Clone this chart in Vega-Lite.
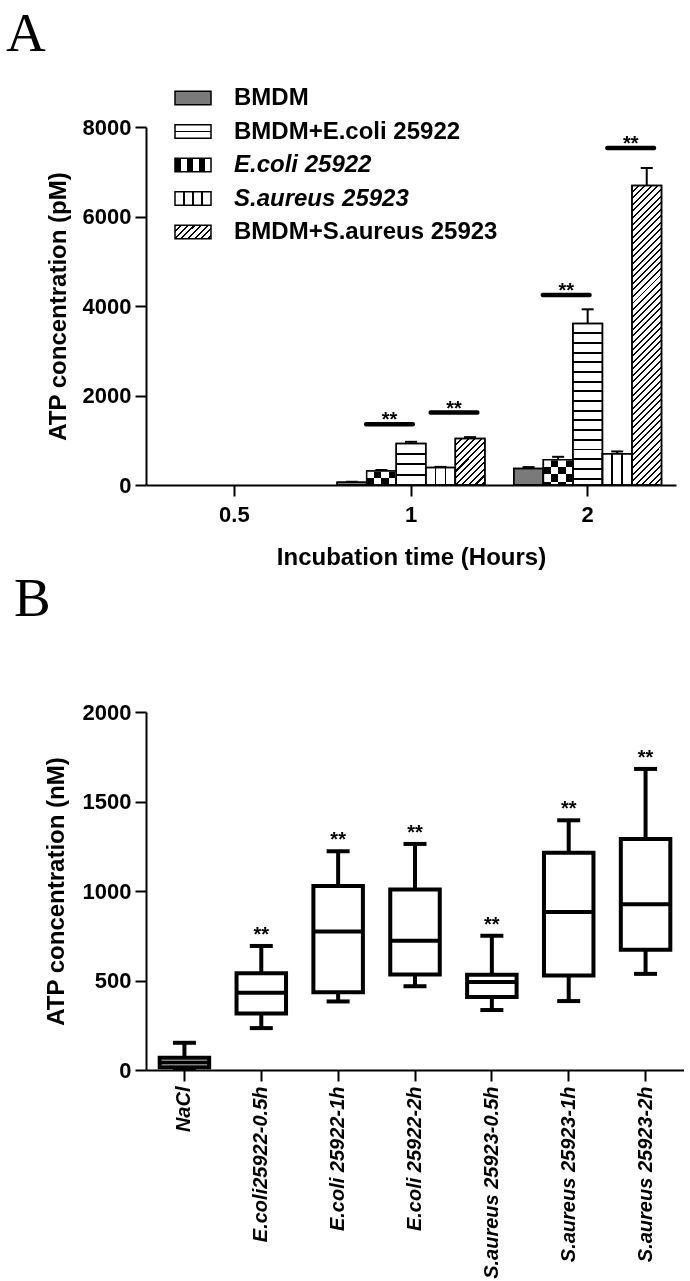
{
"$schema":"https://vega.github.io/schema/vega-lite/v6.json",
"background":"white",
"padding":{"left":6,"top":7,"right":0,"bottom":0},
"bounds":"flush",
"spacing":227,
"config":{
 "view":{"stroke":null},
 "font":"Liberation Sans",
 "axis":{"domainColor":"#000","domainWidth":2,"tickColor":"#000","tickWidth":2,"tickSize":11,"labelColor":"#000","labelFont":"Liberation Sans","labelFontWeight":"bold","labelFontSize":22,"titleColor":"#000","titleFont":"Liberation Sans","titleFontWeight":"bold","titleFontSize":24,"grid":false},
 "title":{"font":"Liberation Serif","fontSize":55,"fontWeight":"normal","color":"#000","anchor":"start","frame":"group"},
 "text":{"font":"Liberation Sans","color":"#000"}
},
"vconcat":[
{
"title":{"text":"A","dx":-140,"offset":53},
"width":530,"height":358,
"data":{"values":[
{"Time":"0.5","Group":"BMDM","ATP":0,"Err":null},
{"Time":"0.5","Group":"E.coli 25922","ATP":0,"Err":null},
{"Time":"0.5","Group":"BMDM+E.coli 25922","ATP":0,"Err":null},
{"Time":"0.5","Group":"S.aureus 25923","ATP":0,"Err":null},
{"Time":"0.5","Group":"BMDM+S.aureus 25923","ATP":0,"Err":null},
{"Time":"1","Group":"BMDM","ATP":60,"Err":72},
{"Time":"1","Group":"E.coli 25922","ATP":313,"Err":335},
{"Time":"1","Group":"BMDM+E.coli 25922","ATP":930,"Err":965},
{"Time":"1","Group":"S.aureus 25923","ATP":389,"Err":405},
{"Time":"1","Group":"BMDM+S.aureus 25923","ATP":1037,"Err":1070},
{"Time":"2","Group":"BMDM","ATP":366,"Err":400},
{"Time":"2","Group":"E.coli 25922","ATP":565,"Err":630},
{"Time":"2","Group":"BMDM+E.coli 25922","ATP":3607,"Err":3926},
{"Time":"2","Group":"S.aureus 25923","ATP":700,"Err":750},
{"Time":"2","Group":"BMDM+S.aureus 25923","ATP":6690,"Err":7084}
]},
"encoding":{
 "x":{"field":"Time","type":"nominal","scale":{"domain":["0.5","1","2"],"paddingInner":0.164,"paddingOuter":0.082},"axis":{"labelAngle":0,"labelPadding":8,"titlePadding":20},"title":"Incubation time (Hours)"},
 "y":{"field":"ATP","type":"quantitative","scale":{"domain":[0,8000],"nice":false},"axis":{"values":[0,2000,4000,6000,8000],"format":"d","titlePadding":12,"labelPadding":4},"title":"ATP concentration (pM)"}
},
"layer":[
{"transform":[{"filter":"datum.ATP > 0"}],
 "encoding":{"xOffset":{"field":"Group","type":"nominal","scale":{"domain":["BMDM","E.coli 25922","BMDM+E.coli 25922","S.aureus 25923","BMDM+S.aureus 25923"],"paddingInner":0,"paddingOuter":0}}},
 "layer":[
{"mark":{"type":"bar","stroke":"#000","strokeWidth":1.5},
 "encoding":{"fill":{"field":"Group","type":"nominal",
  "scale":{"domain":["BMDM","BMDM+E.coli 25922","E.coli 25922","S.aureus 25923","BMDM+S.aureus 25923"],
   "range":["#7a7a7a",
    {"expr":"{gradient:'linear',x1:0,y1:0,x2:0,y2:1,stops:[{offset:0,color:'#fff'},{offset:0.44,color:'#fff'},{offset:0.44,color:'#000'},{offset:0.56,color:'#000'},{offset:0.56,color:'#fff'},{offset:1,color:'#fff'}]}"},
    {"expr":"{gradient:'linear',x1:0,y1:0,x2:1,y2:0,stops:[{offset:0,color:'#000'},{offset:0.1667,color:'#000'},{offset:0.1667,color:'#fff'},{offset:0.3333,color:'#fff'},{offset:0.3333,color:'#000'},{offset:0.5,color:'#000'},{offset:0.5,color:'#fff'},{offset:0.6667,color:'#fff'},{offset:0.6667,color:'#000'},{offset:0.8333,color:'#000'},{offset:0.8333,color:'#fff'},{offset:1,color:'#fff'}]}"},
    {"expr":"{gradient:'linear',x1:0,y1:0,x2:1,y2:0,stops:[{offset:0,color:'#fff'},{offset:0.225,color:'#fff'},{offset:0.225,color:'#000'},{offset:0.275,color:'#000'},{offset:0.275,color:'#fff'},{offset:0.475,color:'#fff'},{offset:0.475,color:'#000'},{offset:0.525,color:'#000'},{offset:0.525,color:'#fff'},{offset:0.725,color:'#fff'},{offset:0.725,color:'#000'},{offset:0.775,color:'#000'},{offset:0.775,color:'#fff'},{offset:1,color:'#fff'}]}"},
    {"expr":"{gradient:'linear',x1:0,y1:0,x2:1.206,y2:0.459,stops:[{offset:0,color:'#fff'},{offset:0.1118,color:'#fff'},{offset:0.1118,color:'#000'},{offset:0.1538,color:'#000'},{offset:0.1538,color:'#fff'},{offset:0.2446,color:'#fff'},{offset:0.2446,color:'#000'},{offset:0.2866,color:'#000'},{offset:0.2866,color:'#fff'},{offset:0.3774,color:'#fff'},{offset:0.3774,color:'#000'},{offset:0.4194,color:'#000'},{offset:0.4194,color:'#fff'},{offset:0.5102,color:'#fff'},{offset:0.5102,color:'#000'},{offset:0.5522,color:'#000'},{offset:0.5522,color:'#fff'},{offset:0.643,color:'#fff'},{offset:0.643,color:'#000'},{offset:0.685,color:'#000'},{offset:0.685,color:'#fff'},{offset:0.7758,color:'#fff'},{offset:0.7758,color:'#000'},{offset:0.8178,color:'#000'},{offset:0.8178,color:'#fff'},{offset:0.9086,color:'#fff'},{offset:0.9086,color:'#000'},{offset:0.9506,color:'#000'},{offset:0.9506,color:'#fff'},{offset:1,color:'#fff'}]}"}
   ]},
  "legend":{"title":null,"orient":"none","legendX":34,"legendY":-42,"symbolType":"M-1.5,-0.57H1.5V0.57H-1.5Z","symbolSize":576,"symbolStrokeColor":"#000","symbolStrokeWidth":1.5,"symbolOpacity":1,"labelFont":"Liberation Sans","labelFontSize":24,"labelFontWeight":"bold","labelColor":"#000","labelOffset":28,"labelLimit":500,"rowPadding":8.5,"padding":0,
   "encode":{
    "labels":{"update":{"fontStyle":{"signal":"datum.value === 'E.coli 25922' || datum.value === 'S.aureus 25923' ? 'italic' : 'normal'"}}}
   }},
  "condition":[
   {"test":"datum.Group === 'E.coli 25922'","value":{"gradient":"linear","x1":0,"y1":0,"x2":1,"y2":0,"stops":[{"offset":0,"color":"#000"},{"offset":0.25,"color":"#000"},{"offset":0.25,"color":"#fff"},{"offset":0.5,"color":"#fff"},{"offset":0.5,"color":"#000"},{"offset":0.75,"color":"#000"},{"offset":0.75,"color":"#fff"},{"offset":1,"color":"#fff"}]}},
   {"test":"datum.Group === 'S.aureus 25923'","value":{"gradient":"linear","x1":0,"y1":0,"x2":1,"y2":0,"stops":[{"offset":0,"color":"#fff"},{"offset":0.303,"color":"#fff"},{"offset":0.303,"color":"#000"},{"offset":0.363,"color":"#000"},{"offset":0.363,"color":"#fff"},{"offset":0.637,"color":"#fff"},{"offset":0.637,"color":"#000"},{"offset":0.697,"color":"#000"},{"offset":0.697,"color":"#fff"},{"offset":1,"color":"#fff"}]}},
   {"test":"datum.Group === 'BMDM+E.coli 25922' && datum.Time === '1'","value":{"gradient":"linear","x1":0,"y1":0,"x2":0,"y2":1,"stops":[{"offset":0,"color":"#fff"},{"offset":0.228,"color":"#fff"},{"offset":0.228,"color":"#000"},{"offset":0.272,"color":"#000"},{"offset":0.272,"color":"#fff"},{"offset":0.478,"color":"#fff"},{"offset":0.478,"color":"#000"},{"offset":0.522,"color":"#000"},{"offset":0.522,"color":"#fff"},{"offset":0.728,"color":"#fff"},{"offset":0.728,"color":"#000"},{"offset":0.772,"color":"#000"},{"offset":0.772,"color":"#fff"},{"offset":1,"color":"#fff"}]}},
   {"test":"datum.Group === 'BMDM+E.coli 25922' && datum.Time === '2'","value":{"gradient":"linear","x1":0,"y1":0,"x2":0,"y2":1,"stops":[{"offset":0,"color":"#fff"},
    {"offset":0.054,"color":"#fff"},{"offset":0.054,"color":"#000"},{"offset":0.066,"color":"#000"},{"offset":0.066,"color":"#fff"},
    {"offset":0.114,"color":"#fff"},{"offset":0.114,"color":"#000"},{"offset":0.126,"color":"#000"},{"offset":0.126,"color":"#fff"},
    {"offset":0.174,"color":"#fff"},{"offset":0.174,"color":"#000"},{"offset":0.186,"color":"#000"},{"offset":0.186,"color":"#fff"},
    {"offset":0.234,"color":"#fff"},{"offset":0.234,"color":"#000"},{"offset":0.246,"color":"#000"},{"offset":0.246,"color":"#fff"},
    {"offset":0.294,"color":"#fff"},{"offset":0.294,"color":"#000"},{"offset":0.306,"color":"#000"},{"offset":0.306,"color":"#fff"},
    {"offset":0.354,"color":"#fff"},{"offset":0.354,"color":"#000"},{"offset":0.366,"color":"#000"},{"offset":0.366,"color":"#fff"},
    {"offset":0.414,"color":"#fff"},{"offset":0.414,"color":"#000"},{"offset":0.426,"color":"#000"},{"offset":0.426,"color":"#fff"},
    {"offset":0.474,"color":"#fff"},{"offset":0.474,"color":"#000"},{"offset":0.486,"color":"#000"},{"offset":0.486,"color":"#fff"},
    {"offset":0.534,"color":"#fff"},{"offset":0.534,"color":"#000"},{"offset":0.546,"color":"#000"},{"offset":0.546,"color":"#fff"},
    {"offset":0.594,"color":"#fff"},{"offset":0.594,"color":"#000"},{"offset":0.606,"color":"#000"},{"offset":0.606,"color":"#fff"},
    {"offset":0.654,"color":"#fff"},{"offset":0.654,"color":"#000"},{"offset":0.666,"color":"#000"},{"offset":0.666,"color":"#fff"},
    {"offset":0.714,"color":"#fff"},{"offset":0.714,"color":"#000"},{"offset":0.726,"color":"#000"},{"offset":0.726,"color":"#fff"},
    {"offset":0.774,"color":"#fff"},{"offset":0.774,"color":"#000"},{"offset":0.786,"color":"#000"},{"offset":0.786,"color":"#fff"},
    {"offset":0.834,"color":"#fff"},{"offset":0.834,"color":"#000"},{"offset":0.846,"color":"#000"},{"offset":0.846,"color":"#fff"},
    {"offset":0.894,"color":"#fff"},{"offset":0.894,"color":"#000"},{"offset":0.906,"color":"#000"},{"offset":0.906,"color":"#fff"},
    {"offset":0.954,"color":"#fff"},{"offset":0.954,"color":"#000"},{"offset":0.966,"color":"#000"},{"offset":0.966,"color":"#fff"},
    {"offset":1,"color":"#fff"}]}},
   {"test":"datum.Group === 'BMDM+S.aureus 25923' && datum.Time === '1'","value":{"gradient":"linear","x1":0,"y1":0,"x2":0.7416,"y2":1.1645,"stops":[{"offset":0,"color":"#fff"},
    {"offset":0.073,"color":"#fff"},{"offset":0.073,"color":"#000"},{"offset":0.101,"color":"#000"},{"offset":0.101,"color":"#fff"},
    {"offset":0.160,"color":"#fff"},{"offset":0.160,"color":"#000"},{"offset":0.188,"color":"#000"},{"offset":0.188,"color":"#fff"},
    {"offset":0.247,"color":"#fff"},{"offset":0.247,"color":"#000"},{"offset":0.275,"color":"#000"},{"offset":0.275,"color":"#fff"},
    {"offset":0.334,"color":"#fff"},{"offset":0.334,"color":"#000"},{"offset":0.362,"color":"#000"},{"offset":0.362,"color":"#fff"},
    {"offset":0.421,"color":"#fff"},{"offset":0.421,"color":"#000"},{"offset":0.449,"color":"#000"},{"offset":0.449,"color":"#fff"},
    {"offset":0.508,"color":"#fff"},{"offset":0.508,"color":"#000"},{"offset":0.536,"color":"#000"},{"offset":0.536,"color":"#fff"},
    {"offset":0.595,"color":"#fff"},{"offset":0.595,"color":"#000"},{"offset":0.623,"color":"#000"},{"offset":0.623,"color":"#fff"},
    {"offset":0.682,"color":"#fff"},{"offset":0.682,"color":"#000"},{"offset":0.710,"color":"#000"},{"offset":0.710,"color":"#fff"},
    {"offset":0.769,"color":"#fff"},{"offset":0.769,"color":"#000"},{"offset":0.797,"color":"#000"},{"offset":0.797,"color":"#fff"},
    {"offset":0.856,"color":"#fff"},{"offset":0.856,"color":"#000"},{"offset":0.884,"color":"#000"},{"offset":0.884,"color":"#fff"},
    {"offset":0.943,"color":"#fff"},{"offset":0.943,"color":"#000"},{"offset":0.971,"color":"#000"},{"offset":0.971,"color":"#fff"},
    {"offset":1,"color":"#fff"}]}},
   {"test":"datum.Group === 'BMDM+S.aureus 25923' && datum.Time === '2'","value":{"gradient":"linear","x1":0,"y1":0,"x2":0.1074,"y2":1.088,"stops":[{"offset":0,"color":"#fff"},
    {"offset":0.017,"color":"#fff"},{"offset":0.017,"color":"#000"},{"offset":0.023,"color":"#000"},{"offset":0.023,"color":"#fff"},
    {"offset":0.037,"color":"#fff"},{"offset":0.037,"color":"#000"},{"offset":0.043,"color":"#000"},{"offset":0.043,"color":"#fff"},
    {"offset":0.057,"color":"#fff"},{"offset":0.057,"color":"#000"},{"offset":0.063,"color":"#000"},{"offset":0.063,"color":"#fff"},
    {"offset":0.077,"color":"#fff"},{"offset":0.077,"color":"#000"},{"offset":0.083,"color":"#000"},{"offset":0.083,"color":"#fff"},
    {"offset":0.097,"color":"#fff"},{"offset":0.097,"color":"#000"},{"offset":0.103,"color":"#000"},{"offset":0.103,"color":"#fff"},
    {"offset":0.117,"color":"#fff"},{"offset":0.117,"color":"#000"},{"offset":0.123,"color":"#000"},{"offset":0.123,"color":"#fff"},
    {"offset":0.137,"color":"#fff"},{"offset":0.137,"color":"#000"},{"offset":0.143,"color":"#000"},{"offset":0.143,"color":"#fff"},
    {"offset":0.157,"color":"#fff"},{"offset":0.157,"color":"#000"},{"offset":0.163,"color":"#000"},{"offset":0.163,"color":"#fff"},
    {"offset":0.177,"color":"#fff"},{"offset":0.177,"color":"#000"},{"offset":0.183,"color":"#000"},{"offset":0.183,"color":"#fff"},
    {"offset":0.197,"color":"#fff"},{"offset":0.197,"color":"#000"},{"offset":0.203,"color":"#000"},{"offset":0.203,"color":"#fff"},
    {"offset":0.217,"color":"#fff"},{"offset":0.217,"color":"#000"},{"offset":0.223,"color":"#000"},{"offset":0.223,"color":"#fff"},
    {"offset":0.237,"color":"#fff"},{"offset":0.237,"color":"#000"},{"offset":0.243,"color":"#000"},{"offset":0.243,"color":"#fff"},
    {"offset":0.257,"color":"#fff"},{"offset":0.257,"color":"#000"},{"offset":0.263,"color":"#000"},{"offset":0.263,"color":"#fff"},
    {"offset":0.277,"color":"#fff"},{"offset":0.277,"color":"#000"},{"offset":0.283,"color":"#000"},{"offset":0.283,"color":"#fff"},
    {"offset":0.297,"color":"#fff"},{"offset":0.297,"color":"#000"},{"offset":0.303,"color":"#000"},{"offset":0.303,"color":"#fff"},
    {"offset":0.317,"color":"#fff"},{"offset":0.317,"color":"#000"},{"offset":0.323,"color":"#000"},{"offset":0.323,"color":"#fff"},
    {"offset":0.337,"color":"#fff"},{"offset":0.337,"color":"#000"},{"offset":0.343,"color":"#000"},{"offset":0.343,"color":"#fff"},
    {"offset":0.357,"color":"#fff"},{"offset":0.357,"color":"#000"},{"offset":0.363,"color":"#000"},{"offset":0.363,"color":"#fff"},
    {"offset":0.377,"color":"#fff"},{"offset":0.377,"color":"#000"},{"offset":0.383,"color":"#000"},{"offset":0.383,"color":"#fff"},
    {"offset":0.397,"color":"#fff"},{"offset":0.397,"color":"#000"},{"offset":0.403,"color":"#000"},{"offset":0.403,"color":"#fff"},
    {"offset":0.417,"color":"#fff"},{"offset":0.417,"color":"#000"},{"offset":0.423,"color":"#000"},{"offset":0.423,"color":"#fff"},
    {"offset":0.437,"color":"#fff"},{"offset":0.437,"color":"#000"},{"offset":0.443,"color":"#000"},{"offset":0.443,"color":"#fff"},
    {"offset":0.457,"color":"#fff"},{"offset":0.457,"color":"#000"},{"offset":0.463,"color":"#000"},{"offset":0.463,"color":"#fff"},
    {"offset":0.477,"color":"#fff"},{"offset":0.477,"color":"#000"},{"offset":0.483,"color":"#000"},{"offset":0.483,"color":"#fff"},
    {"offset":0.497,"color":"#fff"},{"offset":0.497,"color":"#000"},{"offset":0.503,"color":"#000"},{"offset":0.503,"color":"#fff"},
    {"offset":0.517,"color":"#fff"},{"offset":0.517,"color":"#000"},{"offset":0.523,"color":"#000"},{"offset":0.523,"color":"#fff"},
    {"offset":0.537,"color":"#fff"},{"offset":0.537,"color":"#000"},{"offset":0.543,"color":"#000"},{"offset":0.543,"color":"#fff"},
    {"offset":0.557,"color":"#fff"},{"offset":0.557,"color":"#000"},{"offset":0.563,"color":"#000"},{"offset":0.563,"color":"#fff"},
    {"offset":0.577,"color":"#fff"},{"offset":0.577,"color":"#000"},{"offset":0.583,"color":"#000"},{"offset":0.583,"color":"#fff"},
    {"offset":0.597,"color":"#fff"},{"offset":0.597,"color":"#000"},{"offset":0.603,"color":"#000"},{"offset":0.603,"color":"#fff"},
    {"offset":0.617,"color":"#fff"},{"offset":0.617,"color":"#000"},{"offset":0.623,"color":"#000"},{"offset":0.623,"color":"#fff"},
    {"offset":0.637,"color":"#fff"},{"offset":0.637,"color":"#000"},{"offset":0.643,"color":"#000"},{"offset":0.643,"color":"#fff"},
    {"offset":0.657,"color":"#fff"},{"offset":0.657,"color":"#000"},{"offset":0.663,"color":"#000"},{"offset":0.663,"color":"#fff"},
    {"offset":0.677,"color":"#fff"},{"offset":0.677,"color":"#000"},{"offset":0.683,"color":"#000"},{"offset":0.683,"color":"#fff"},
    {"offset":0.697,"color":"#fff"},{"offset":0.697,"color":"#000"},{"offset":0.703,"color":"#000"},{"offset":0.703,"color":"#fff"},
    {"offset":0.717,"color":"#fff"},{"offset":0.717,"color":"#000"},{"offset":0.723,"color":"#000"},{"offset":0.723,"color":"#fff"},
    {"offset":0.737,"color":"#fff"},{"offset":0.737,"color":"#000"},{"offset":0.743,"color":"#000"},{"offset":0.743,"color":"#fff"},
    {"offset":0.757,"color":"#fff"},{"offset":0.757,"color":"#000"},{"offset":0.763,"color":"#000"},{"offset":0.763,"color":"#fff"},
    {"offset":0.777,"color":"#fff"},{"offset":0.777,"color":"#000"},{"offset":0.783,"color":"#000"},{"offset":0.783,"color":"#fff"},
    {"offset":0.797,"color":"#fff"},{"offset":0.797,"color":"#000"},{"offset":0.803,"color":"#000"},{"offset":0.803,"color":"#fff"},
    {"offset":0.817,"color":"#fff"},{"offset":0.817,"color":"#000"},{"offset":0.823,"color":"#000"},{"offset":0.823,"color":"#fff"},
    {"offset":0.837,"color":"#fff"},{"offset":0.837,"color":"#000"},{"offset":0.843,"color":"#000"},{"offset":0.843,"color":"#fff"},
    {"offset":0.857,"color":"#fff"},{"offset":0.857,"color":"#000"},{"offset":0.863,"color":"#000"},{"offset":0.863,"color":"#fff"},
    {"offset":0.877,"color":"#fff"},{"offset":0.877,"color":"#000"},{"offset":0.883,"color":"#000"},{"offset":0.883,"color":"#fff"},
    {"offset":0.897,"color":"#fff"},{"offset":0.897,"color":"#000"},{"offset":0.903,"color":"#000"},{"offset":0.903,"color":"#fff"},
    {"offset":0.917,"color":"#fff"},{"offset":0.917,"color":"#000"},{"offset":0.923,"color":"#000"},{"offset":0.923,"color":"#fff"},
    {"offset":0.937,"color":"#fff"},{"offset":0.937,"color":"#000"},{"offset":0.943,"color":"#000"},{"offset":0.943,"color":"#fff"},
    {"offset":0.957,"color":"#fff"},{"offset":0.957,"color":"#000"},{"offset":0.963,"color":"#000"},{"offset":0.963,"color":"#fff"},
    {"offset":0.977,"color":"#fff"},{"offset":0.977,"color":"#000"},{"offset":0.983,"color":"#000"},{"offset":0.983,"color":"#fff"},
    {"offset":1,"color":"#fff"}]}}
  ]}}},
{"transform":[{"filter":"datum.Group === 'E.coli 25922'"}],
 "mark":{"type":"bar","blend":"difference","strokeWidth":0},
 "encoding":{"fill":{"condition":{"test":"datum.Time === '1'","value":{"gradient":"linear","x1":0,"y1":0,"x2":0,"y2":1,"stops":[{"offset":0,"color":"#fff"},{"offset":0.5,"color":"#fff"},{"offset":0.5,"color":"#000"},{"offset":1,"color":"#000"}]}},
  "value":{"gradient":"linear","x1":0,"y1":0,"x2":0,"y2":1,"stops":[{"offset":0,"color":"#fff"},{"offset":0.29,"color":"#fff"},{"offset":0.29,"color":"#000"},{"offset":0.58,"color":"#000"},{"offset":0.58,"color":"#fff"},{"offset":0.87,"color":"#fff"},{"offset":0.87,"color":"#000"},{"offset":1,"color":"#000"}]}}}},
{"mark":{"type":"bar","fillOpacity":0,"stroke":"#000","strokeWidth":1.5}},
{"transform":[{"filter":"datum.Err != null"}],
 "mark":{"type":"rule","strokeWidth":2,"color":"#000"},
 "encoding":{"y2":{"field":"Err"}}},
{"transform":[{"filter":"datum.Err != null"}],
 "mark":{"type":"tick","size":12,"thickness":2,"color":"#000","opacity":1},
 "encoding":{"y":{"field":"Err","type":"quantitative","title":"ATP concentration (pM)"}}}
 ]},
{"data":{"values":[
 {"Time":"1","Pair":"E.coli","Sig":1356,"Label":"**"},
 {"Time":"1","Pair":"S.aureus","Sig":1618,"Label":"**"},
 {"Time":"2","Pair":"E.coli","Sig":4246,"Label":"**"},
 {"Time":"2","Pair":"S.aureus","Sig":7531,"Label":"**"}]},
 "layer":[
  {"mark":{"type":"tick","size":51,"thickness":4.5,"color":"#000","opacity":1,"cornerRadius":2,"xOffset":{"expr":"datum.Pair === 'E.coli' ? -21.5 : 43"}},
   "encoding":{"y":{"field":"Sig","type":"quantitative","title":"ATP concentration (pM)"}}},
  {"mark":{"type":"text","fontSize":20,"fontWeight":"bold","baseline":"alphabetic","dy":2,"color":"#000","xOffset":{"expr":"datum.Pair === 'E.coli' ? -21.5 : 43"}},
   "encoding":{"y":{"field":"Sig","type":"quantitative","title":"ATP concentration (pM)"},"text":{"field":"Label"}}}
 ]}
]
},
{
"title":{"text":"B","dx":-132,"offset":73},
"width":538,"height":358,
"data":{"values":[
{"Group":"NaCl","Min":8,"Q1":15,"Median":42,"Q3":69,"Max":152,"Sig":""},
{"Group":"E.coli25922-0.5h","Min":234,"Q1":315,"Median":432,"Q3":541,"Max":693,"Sig":"**"},
{"Group":"E.coli 25922-1h","Min":383,"Q1":435,"Median":774,"Q3":1028,"Max":1222,"Sig":"**"},
{"Group":"E.coli 25922-2h","Min":468,"Q1":533,"Median":722,"Q3":1009,"Max":1263,"Sig":"**"},
{"Group":"S.aureus 25923-0.5h","Min":335,"Q1":408,"Median":491,"Q3":532,"Max":750,"Sig":"**"},
{"Group":"S.aureus 25923-1h","Min":385,"Q1":528,"Median":883,"Q3":1213,"Max":1395,"Sig":"**"},
{"Group":"S.aureus 25923-2h","Min":537,"Q1":672,"Median":926,"Q3":1291,"Max":1682,"Sig":"**"}
]},
"encoding":{"x":{"field":"Group","type":"nominal","sort":null,"scale":{"paddingInner":0,"paddingOuter":0},"axis":{"labelAngle":-90,"labelFontStyle":"italic","labelFontSize":20,"labelPadding":5,"labelLimit":400},"title":null}},
"layer":[
 {"mark":{"type":"rule","strokeWidth":4,"color":"#000"},
  "encoding":{"y":{"field":"Min","type":"quantitative","scale":{"domain":[0,2000],"nice":false},"axis":{"values":[0,500,1000,1500,2000],"format":"d","titlePadding":14,"labelPadding":4},"title":"ATP concentration (nM)"},"y2":{"field":"Max"}}},
 {"mark":{"type":"bar","fill":"#fff","stroke":"#000","strokeWidth":4,"width":{"band":0.644}},
  "encoding":{"y":{"field":"Q1","type":"quantitative","title":"ATP concentration (nM)"},"y2":{"field":"Q3"}}},
 {"mark":{"type":"tick","size":50,"thickness":4,"color":"#000","opacity":1},
  "encoding":{"y":{"field":"Median","type":"quantitative","title":"ATP concentration (nM)"}}},
 {"mark":{"type":"tick","size":23,"thickness":4,"color":"#000","opacity":1},
  "encoding":{"y":{"field":"Min","type":"quantitative","title":"ATP concentration (nM)"}}},
 {"mark":{"type":"tick","size":23,"thickness":4,"color":"#000","opacity":1},
  "encoding":{"y":{"field":"Max","type":"quantitative","title":"ATP concentration (nM)"}}},
 {"mark":{"type":"text","fontSize":20,"fontWeight":"bold","baseline":"alphabetic","dy":-5,"color":"#000"},
  "encoding":{"y":{"field":"Max","type":"quantitative","title":"ATP concentration (nM)"},"text":{"field":"Sig"}}}
]
}
]
}
